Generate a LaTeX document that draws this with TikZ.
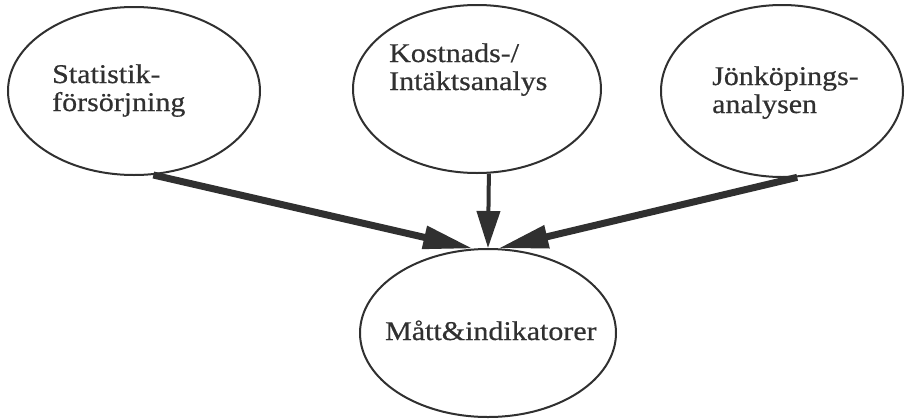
\documentclass[tikz,border=0pt]{standalone}
\usepackage{fontspec}
\setmainfont[FakeStretch=1.11, FakeBold=0.6]{Liberation Serif}
\usetikzlibrary{shapes.geometric,arrows.meta}
\definecolor{ink}{HTML}{303030}

\begin{document}
\begin{tikzpicture}[
        x=1pt, y=-1pt,
        bubble/.style={draw=ink, line width=2pt, ellipse, inner sep=0pt},
        bubbletext/.style={text=ink, inner sep=0pt, anchor=base west, align=left, font=\fontsize{27}{28}\selectfont},
        fatarrow/.style={draw=ink, line width=7pt, -{Triangle[length=50pt, width=22pt]}},
        slimarrow/.style={draw=ink, line width=4pt, -{Triangle[length=37pt, width=23pt]}}
    ]
        \useasboundingbox (0,0) rectangle (905,418);

        \node[bubble, minimum width=252pt, minimum height=168pt] (stat) at (134,91) {};
        \node[bubble, minimum width=248pt, minimum height=168pt] (kost) at (477,89) {};
        \node[bubble, minimum width=242pt, minimum height=172pt] (jonk) at (782,91) {};
        \node[bubble, minimum width=256pt, minimum height=168pt] (matt) at (488,333) {};

        \node[bubbletext] (statText) at (52,111) {Statistik-\\försörjning};
        \node[bubbletext] (kostText) at (389,90) {Kostnads-/\\Intäktsanalys};
        \node[bubbletext] (jonkText) at (712,113) {Jönköpings-\\analysen};
        \node[bubbletext] (mattText) at (385,340) {Mått\&indikatorer};

        \draw[fatarrow] (stat.-77) -- (matt.100);
        \draw[slimarrow] (kost.-82) -- (matt.north);
        \draw[fatarrow] (jonk.-80) -- (matt.83);
    \end{tikzpicture}
\end{document}
